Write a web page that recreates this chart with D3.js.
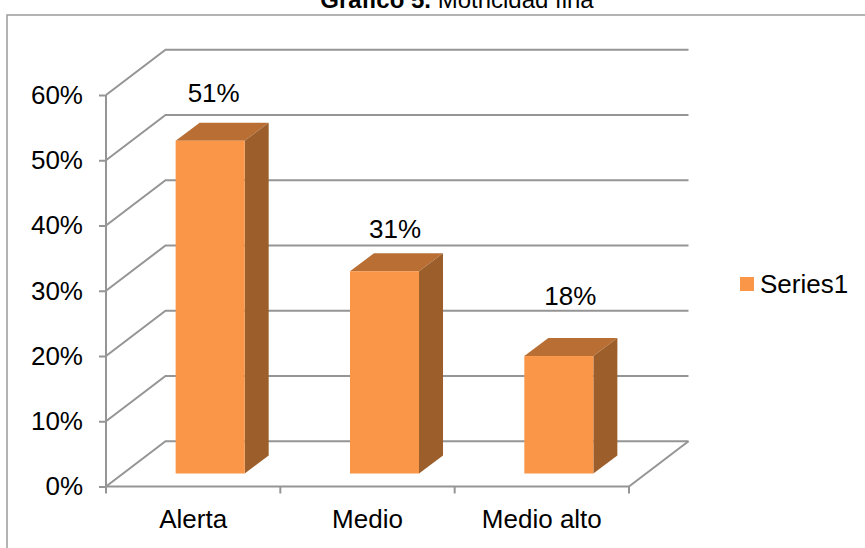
<!DOCTYPE html>
<html><head><meta charset="utf-8">
<script src="https://cdn.jsdelivr.net/npm/d3@7"></script>
<style>html,body{margin:0;background:#fff}svg{display:block}text{font-family:"Liberation Sans",Arial,sans-serif;fill:#000}</style>
</head><body><svg id="c" width="865" height="548"></svg>
<script>
const categories = ["Alerta", "Medio", "Medio alto"];
const values = [0.51, 0.31, 0.18];
const yTicks = [0, 0.1, 0.2, 0.3, 0.4, 0.5, 0.6];
const seriesName = "Series1";

const svg = d3.select("#c");
const grid = "#959595";
const face = "#F99647", faceTop = "#B96F34", faceSide = "#9C5F2B";
const fontSize = 26;

// Projection of the box: wall depth and bar depth, both as screen offsets
const wall = {dx: 59.5, dy: -45.3};
const barDepth = {dx: 24, dy: -18};
const barInset = {dx: 17, dy: -13};

// Data label placement relative to each bar's front face: [right shift, lift]
const labelNudge = [[3.5, 38.5], [10.5, 33], [11.5, 51]];

const y = d3.scaleLinear().domain([0, 0.6]).range([486.5, 95]);
const x = d3.scaleBand().domain(categories).range([106, 629]).paddingInner(0.604).paddingOuter(0.302);
const pct = d3.format(".0%");

// Outer chart frame, open on the right and bottom edges of the page
svg.append("path").attr("d", d3.line()([[7, 548], [7, 15], [865, 15]]))
  .attr("fill", "none").attr("stroke", "#9a9a9a").attr("stroke-width", 1.5);

svg.append("text").attr("x", 457).attr("y", 8).attr("text-anchor", "middle").attr("font-size", 24)
  .call(t => {
    t.append("tspan").attr("font-weight", "bold").text("Gráfico 5. ");
    t.append("tspan").text("Motricidad fina");
  });

const xl = 106, xr = 629;
const gridG = svg.append("g").attr("fill", "none").attr("stroke", grid).attr("stroke-width", 2);
yTicks.forEach(t => {
  const p = y(t);
  gridG.append("path").attr("d", d3.line()([[xl, p], [xl + wall.dx, p + wall.dy], [xr + wall.dx, p + wall.dy]]));
});
// Floor edge from the front-right corner back to the wall
gridG.append("path").attr("d", d3.line()([[xr, y(0)], [xr + wall.dx, y(0) + wall.dy]]));
gridG.append("path").attr("d", d3.line()([[xl, y(0.6)], [xl, y(0)], [xr, y(0)]]));

// Axis ticks and labels
const axisY = d3.axisLeft(y).tickValues(yTicks).tickFormat(pct).tickSize(7);
const gy = svg.append("g").attr("transform", `translate(${xl},0)`).call(axisY);
gy.select(".domain").remove();
gy.selectAll("line").attr("stroke", grid).attr("stroke-width", 2);
gy.selectAll("text").attr("font-size", fontSize).attr("x", -23).attr("dy", "0.32em");

const axisX = d3.axisBottom(x).tickSize(0).tickPadding(0);
const gx = svg.append("g").attr("transform", `translate(0,${y(0)})`).call(axisX);
gx.select(".domain").remove();
gx.selectAll("text").attr("font-size", fontSize).attr("y", 41).attr("dy", 0);

d3.range(categories.length + 1).forEach(i => {
  const tx = xl + i * x.step();
  svg.append("line").attr("x1", tx).attr("x2", tx).attr("y1", y(0)).attr("y2", y(0) + 7)
    .attr("stroke", grid).attr("stroke-width", 2);
});

// 3D bars: top, side, then front
const bars = svg.append("g").selectAll("g").data(categories.map((c, i) => ({c, v: values[i], i}))).join("g");
bars.each(function (d) {
  const g = d3.select(this);
  const x0 = x(d.c) + barInset.dx, x1 = x0 + x.bandwidth();
  const base = y(0) + barInset.dy, top = y(d.v) + barInset.dy;
  const {dx, dy} = barDepth;
  const poly = pts => d3.line()(pts) + "Z";
  g.append("path").attr("fill", faceTop).attr("d", poly([[x0, top], [x0 + dx, top + dy], [x1 + dx, top + dy], [x1, top]]));
  g.append("path").attr("fill", faceSide).attr("d", poly([[x1, top], [x1 + dx, top + dy], [x1 + dx, base + dy], [x1, base]]));
  g.append("rect").attr("fill", face).attr("x", x0).attr("y", top).attr("width", x1 - x0).attr("height", base - top);
  const [shift, lift] = labelNudge[d.i];
  g.append("text").attr("x", (x0 + x1) / 2 + shift).attr("y", top - lift).attr("text-anchor", "middle")
    .attr("font-size", fontSize).text(pct(d.v));
});

// Legend
svg.append("rect").attr("x", 740).attr("y", 277).attr("width", 14).attr("height", 14).attr("fill", face);
svg.append("text").attr("x", 760).attr("y", 292.5).attr("font-size", fontSize).text(seriesName);
</script></body></html>
